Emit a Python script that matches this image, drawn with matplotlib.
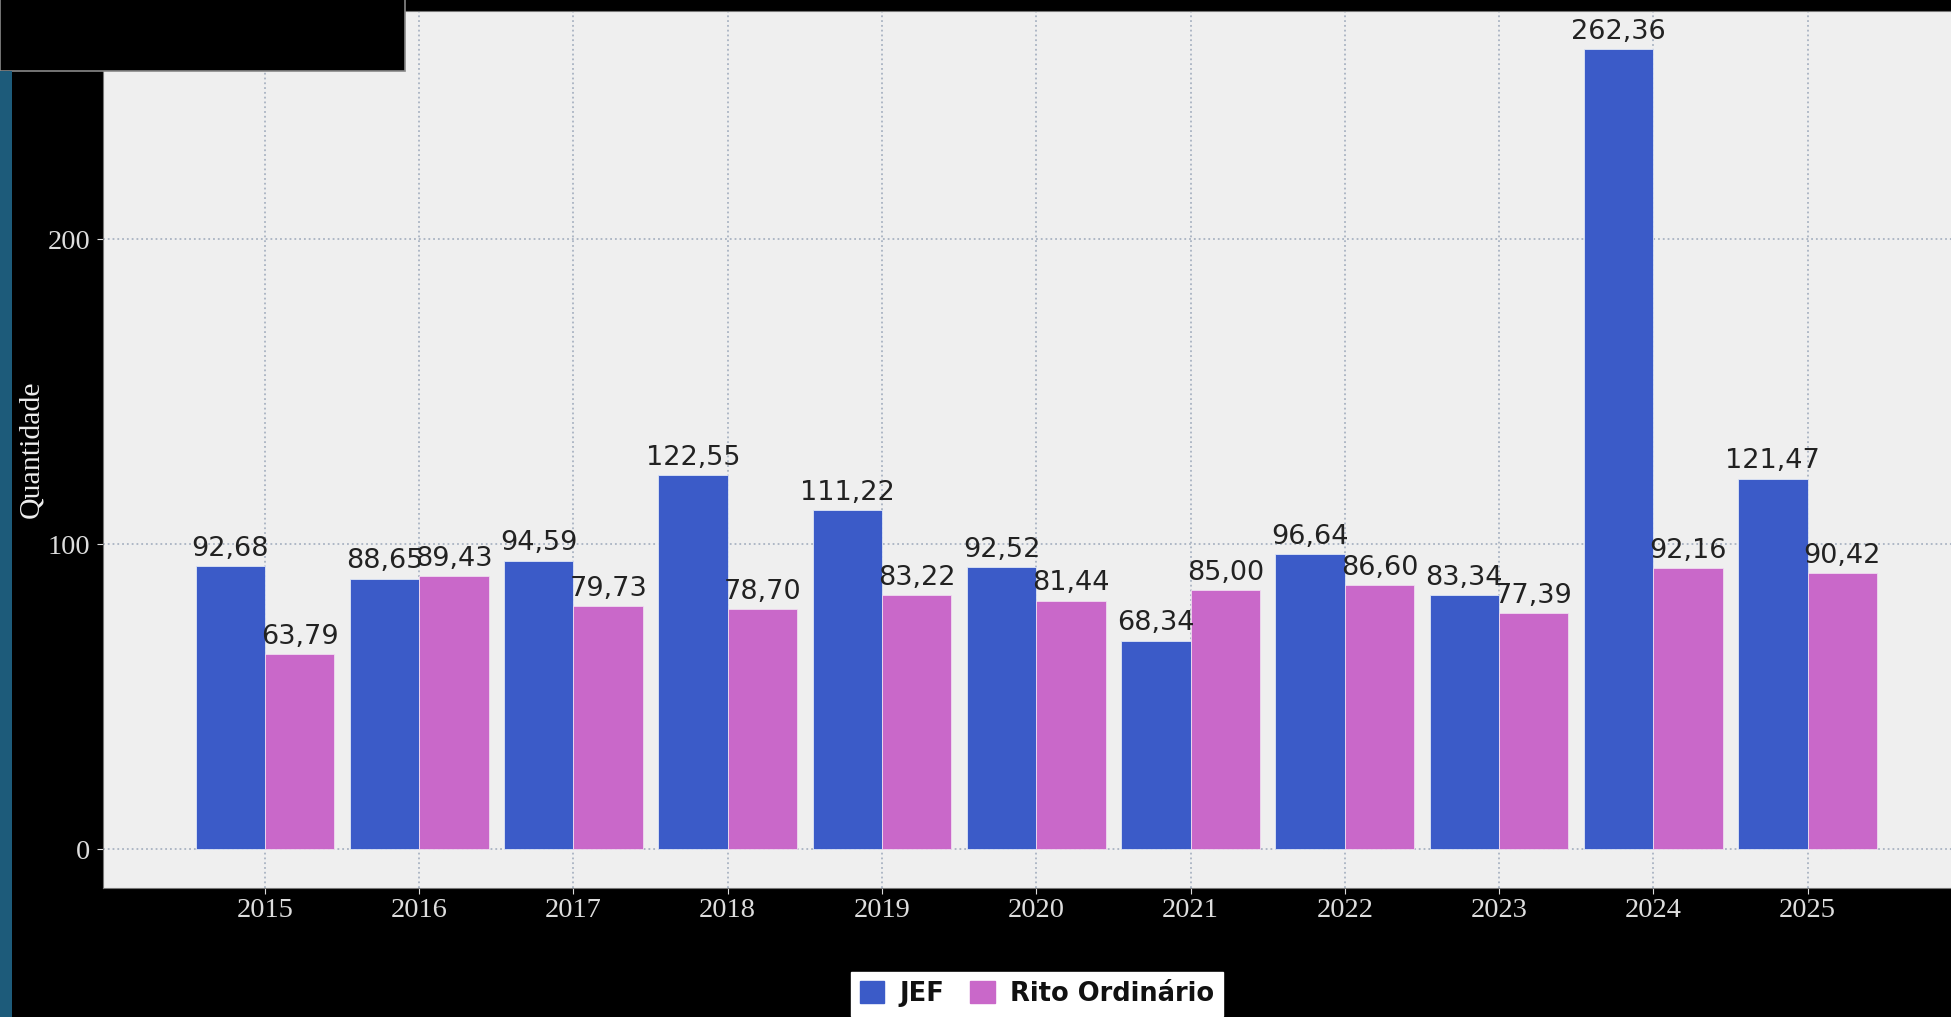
import matplotlib.pyplot as plt
from matplotlib.patches import Rectangle, Patch

anos = ['2015', '2016', '2017', '2018', '2019', '2020', '2021', '2022', '2023', '2024', '2025']
jef = [92.68, 88.65, 94.59, 122.55, 111.22, 92.52, 68.34, 96.64, 83.34, 262.36, 121.47]
rito = [63.79, 89.43, 79.73, 78.70, 83.22, 81.44, 85.00, 86.60, 77.39, 92.16, 90.42]
y_ticks = [0, 100, 200]

cor_jef = '#3b5bc8'
cor_rito = '#c968c9'
largura = 0.45

fig = plt.figure(figsize=(19.51, 10.17), dpi=100, facecolor='black')
ax = fig.add_axes([0.0528, 0.1268, 0.9472, 0.8624])
ax.set_facecolor('#efefef')

pos = list(range(len(anos)))
b1 = ax.bar([p - largura / 2 for p in pos], jef, width=largura, color=cor_jef,
            edgecolor='#dfe6f5', linewidth=0.6, zorder=3)
b2 = ax.bar([p + largura / 2 for p in pos], rito, width=largura, color=cor_rito,
            edgecolor='#f0dcf0', linewidth=0.6, zorder=3)

# rotulos com virgula decimal
for barras in (b1, b2):
    ax.bar_label(barras, labels=[('%.2f' % b.get_height()).replace('.', ',') for b in barras],
                 padding=3, fontsize=19.5, color='#222222', family='DejaVu Sans', zorder=4)

ax.set_xlim(-1.05, 10.93)
ax.set_ylim(-12.8, 274.8)
ax.set_xticks(pos)
ax.set_xticklabels(anos)
ax.set_yticks(y_ticks)
ax.tick_params(colors='#dddddd', labelsize=20.5, length=4, pad=5)
for lbl in ax.get_xticklabels() + ax.get_yticklabels():
    lbl.set_family('Liberation Serif')
ax.tick_params(axis='x', pad=3)
ax.grid(True, linestyle=':', color='#a9b3c2', linewidth=1.3, zorder=0)
ax.set_axisbelow(True)
for lado in ['left', 'bottom', 'top']:
    ax.spines[lado].set_color('#777777')
ax.spines['right'].set_visible(False)

fig.text(0.016, 0.5585, 'Quantidade', rotation=90, ha='center', va='center',
         fontsize=21.5, color='#eeeeee', family='Liberation Serif')

# legenda
handles = [Patch(color=cor_jef, label='JEF'), Patch(color=cor_rito, label='Rito Ordinário')]
leg = fig.legend(handles=handles, loc='upper center', bbox_to_anchor=(0.5315, 0.0442), ncol=2,
                 frameon=True, fancybox=False, framealpha=1.0, handlelength=0.95, handleheight=0.95,
                 handletextpad=0.6, columnspacing=1.0, borderpad=0.35, borderaxespad=0.0,
                 prop={'family': 'DejaVu Sans', 'weight': 'bold', 'size': 18.5})
leg.get_frame().set_facecolor('white')
leg.get_frame().set_edgecolor('white')
for t in leg.get_texts():
    t.set_color('#111111')

# caixas sobrepostas
fig.patches.append(Rectangle((0, 0.930), 0.2076, 0.08, transform=fig.transFigure,
                             facecolor='black', edgecolor='#888888', linewidth=1.2, zorder=10))
fig.patches.append(Rectangle((0, 0), 0.006, 0.930, transform=fig.transFigure,
                             facecolor='#1d5b7a', edgecolor='none', zorder=10))

fig.savefig('out.png', dpi=100, facecolor='black')
